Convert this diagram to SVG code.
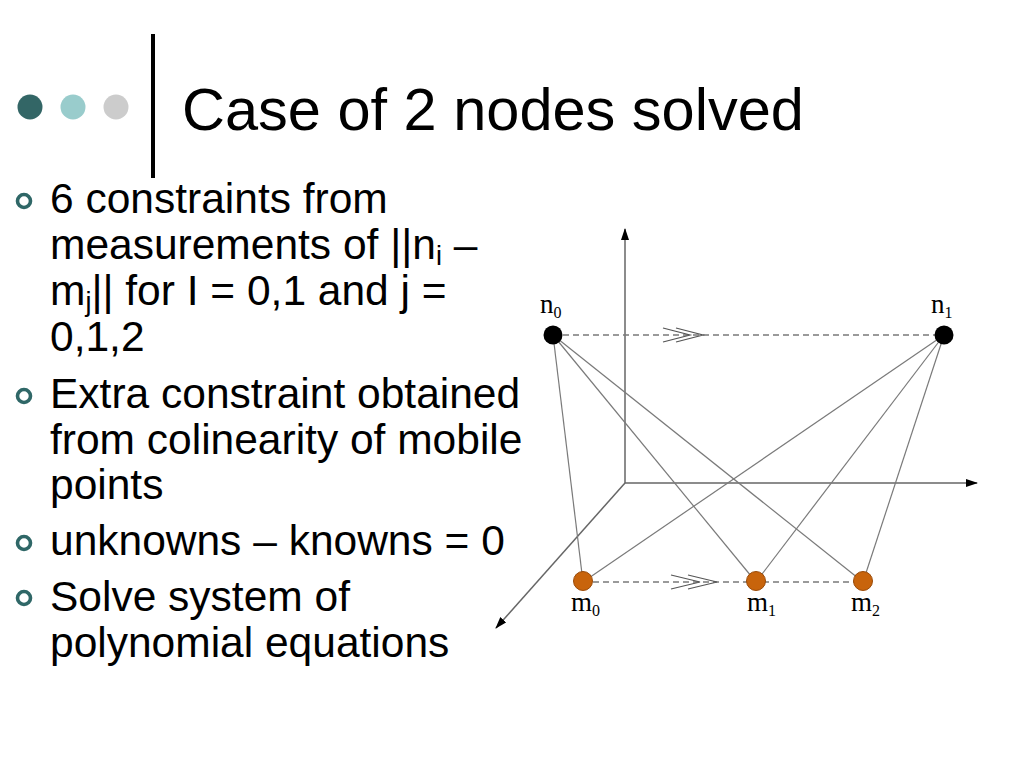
<svg xmlns="http://www.w3.org/2000/svg" width="1024" height="768" viewBox="0 0 1024 768">
  <style>
    .title { font-family: "Liberation Sans", Arial, sans-serif; font-size: 59.5px; fill: #000; }
    .body { font-family: "Liberation Sans", Arial, sans-serif; font-size: 42.5px; fill: #000; }
    .sub { font-size: 27px; }
    .lbl { font-family: "Liberation Serif", "Times New Roman", serif; font-size: 27px; fill: #000; }
    .lsub { font-size: 16px; }
    .bullet { fill: none; stroke: #2F6767; stroke-width: 3.6; }
    .edge { stroke: #7a7a7a; stroke-width: 1.2; fill: none; }
    .axis { stroke: #666; stroke-width: 1.5; fill: none; }
    .dash { stroke: #7a7a7a; stroke-width: 1.3; stroke-dasharray: 6 4; fill: none; }
    .chev { stroke: #555; stroke-width: 1.2; fill: none; }
    .nnode { fill: #000; }
    .mnode { fill: #C8640C; stroke: #9A4A08; stroke-width: 1; }
  </style>
  <defs>
    <marker id="arr" markerWidth="12" markerHeight="8" refX="11" refY="4" orient="auto" markerUnits="userSpaceOnUse">
      <path d="M0,0 L12,4 L0,8 Z" fill="#000"/>
    </marker>
  </defs>
  <rect width="1024" height="768" fill="#fff"/>

  <g id="header">
    <circle cx="30" cy="107" r="12.5" fill="#336666"/>
    <circle cx="73" cy="107" r="12.5" fill="#99CCCC"/>
    <circle cx="116" cy="107" r="12.5" fill="#CCCCCC"/>
    <rect x="151" y="34" width="4" height="144" fill="#000"/>
    <text class="title" x="182" y="130">Case of 2 nodes solved</text>
  </g>

  <g id="bullets">
    <circle class="bullet" cx="24" cy="201" r="6.5"/>
    <circle class="bullet" cx="24" cy="396" r="6.5"/>
    <circle class="bullet" cx="24" cy="543" r="6.5"/>
    <circle class="bullet" cx="24" cy="598" r="6.5"/>
    <text class="body" x="50" y="213">6 constraints from</text>
    <text class="body" x="50" y="259">measurements of ||n<tspan class="sub" dy="6">i</tspan><tspan dy="-6"> –</tspan></text>
    <text class="body" x="50" y="305">m<tspan class="sub" dy="6">j</tspan><tspan dy="-6">|| for I = 0,1 and j =</tspan></text>
    <text class="body" x="50" y="351">0,1,2</text>
    <text class="body" x="50" y="408">Extra constraint obtained</text>
    <text class="body" x="50" y="454">from colinearity of mobile</text>
    <text class="body" x="50" y="499">points</text>
    <text class="body" x="50" y="555">unknowns – knowns = 0</text>
    <text class="body" x="50" y="611">Solve system of</text>
    <text class="body" x="50" y="657">polynomial equations</text>
  </g>

  <g id="connectors">
    <line class="axis" x1="625" y1="483" x2="625" y2="229" marker-end="url(#arr)"/>
    <line class="axis" x1="625" y1="483" x2="977" y2="483" marker-end="url(#arr)"/>
    <line class="axis" x1="625" y1="483" x2="496" y2="628" marker-end="url(#arr)"/>
    <line class="dash" x1="553" y1="335" x2="944" y2="335"/>
    <path class="chev" d="M663,328 L690,335 L663,342 M676,328 L703,335 L676,342"/>
    <line class="dash" x1="583" y1="582" x2="863" y2="582"/>
    <path class="chev" d="M671,575 L700,582 L671,589 M688,575 L717,582 L688,589"/>
    <line class="edge" x1="553" y1="335" x2="583" y2="582"/>
    <line class="edge" x1="553" y1="335" x2="756" y2="582"/>
    <line class="edge" x1="553" y1="335" x2="863" y2="582"/>
    <line class="edge" x1="944" y1="335" x2="583" y2="582"/>
    <line class="edge" x1="944" y1="335" x2="756" y2="582"/>
    <line class="edge" x1="944" y1="335" x2="863" y2="582"/>
  </g>

  <g id="n0">
    <circle class="nnode" cx="553" cy="335" r="9.5"/>
    <text class="lbl" x="540" y="313">n<tspan class="lsub" dy="5">0</tspan></text>
  </g>
  <g id="n1">
    <circle class="nnode" cx="944" cy="335" r="9.5"/>
    <text class="lbl" x="931" y="313">n<tspan class="lsub" dy="5">1</tspan></text>
  </g>
  <g id="m0">
    <circle class="mnode" cx="583" cy="581" r="9.5"/>
    <text class="lbl" x="571" y="611">m<tspan class="lsub" dy="5">0</tspan></text>
  </g>
  <g id="m1">
    <circle class="mnode" cx="756" cy="581" r="9.5"/>
    <text class="lbl" x="747" y="611">m<tspan class="lsub" dy="5">1</tspan></text>
  </g>
  <g id="m2">
    <circle class="mnode" cx="863" cy="581" r="9.5"/>
    <text class="lbl" x="851" y="611">m<tspan class="lsub" dy="5">2</tspan></text>
  </g>
</svg>
